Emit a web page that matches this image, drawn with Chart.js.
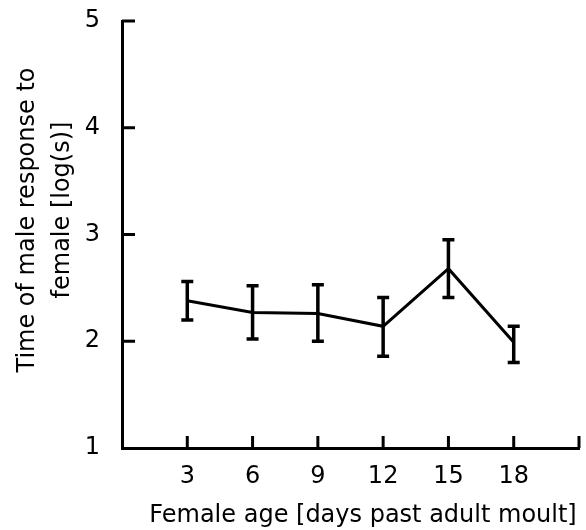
<!DOCTYPE html>
<html>
<head>
<meta charset="utf-8">
<script src="https://cdn.jsdelivr.net/npm/chart.js@4.4.0/dist/chart.umd.min.js"></script>
<style>
  html, body { margin: 0; padding: 0; background: #fff; }
  #wrap { width: 586px; height: 530px; }
</style>
</head>
<body>
<div id="wrap"><canvas id="chart"></canvas></div>
<script>
// female age (days past adult moult) and mean log response time
const ages = [3, 6, 9, 12, 15, 18]
const means = [2.38, 2.27, 2.26, 2.14, 2.68, 1.99]
const err_low = [2.20, 2.02, 2.00, 1.86, 2.41, 1.80]
const err_high = [2.56, 2.52, 2.53, 2.41, 2.95, 2.14]
const x_ticks = [3, 6, 9, 12, 15, 18, 21]
const y_ticks = [1, 2, 3, 4, 5]
const x_title = "Female age [days past adult moult]"
const y_title = ["Time of male response to", "female [log(s)]"]

const font_family = "'DejaVu Sans', sans-serif"

// error bars, inward tick marks and axis titles, drawn through the chart's scales
const extras = {
    id: "extras",
    afterDatasetsDraw(chart) {
        const ctx = chart.ctx
        const xs = chart.scales.x
        const ys = chart.scales.y
        ctx.save()
        ctx.strokeStyle = "#000"
        ctx.lineCap = "butt"

        // error bars
        ctx.lineWidth = 3.5
        for (let i = 0; i < ages.length; i++) {
            let px = xs.getPixelForValue(ages[i])
            let top = ys.getPixelForValue(err_high[i])
            let bot = ys.getPixelForValue(err_low[i])
            ctx.beginPath()
            ctx.moveTo(px, top)
            ctx.lineTo(px, bot)
            ctx.moveTo(px - 6, top)
            ctx.lineTo(px + 6, top)
            ctx.moveTo(px - 6, bot)
            ctx.lineTo(px + 6, bot)
            ctx.stroke()
        }

        // ticks pointing into the plot
        ctx.lineWidth = 3
        let base_y = ys.getPixelForValue(1)
        x_ticks.forEach(t => {
            let px = xs.getPixelForValue(t)
            ctx.beginPath()
            ctx.moveTo(px, base_y)
            ctx.lineTo(px, base_y - 12)
            ctx.stroke()
        })
        let base_x = xs.getPixelForValue(0)
        y_ticks.forEach(t => {
            if (t === 1) return
            let py = ys.getPixelForValue(t)
            ctx.beginPath()
            ctx.moveTo(base_x, py)
            ctx.lineTo(base_x + 13, py)
            ctx.stroke()
        })

        // axis titles
        ctx.fillStyle = "#000"
        ctx.font = "24px " + font_family
        ctx.textAlign = "center"
        ctx.textBaseline = "alphabetic"
        ctx.fillText(x_title, 363, 522)
        ctx.textBaseline = "middle"
        ctx.save()
        ctx.translate(28, 220)
        ctx.rotate(-Math.PI / 2)
        ctx.fillText(y_title[0], 0, 0)
        ctx.restore()
        ctx.save()
        ctx.translate(63, 210)
        ctx.rotate(-Math.PI / 2)
        ctx.fillText(y_title[1], 0, 0)
        ctx.restore()
        ctx.restore()
    }
}

new Chart(document.getElementById("chart"), {
    type: "scatter",
    data: {
        datasets: [{
            data: ages.map((a, i) => ({ x: a, y: means[i] })),
            showLine: true,
            borderColor: "#000",
            borderWidth: 3,
            pointRadius: 0,
            tension: 0
        }]
    },
    options: {
        responsive: true,
        maintainAspectRatio: false,
        animation: false,
        layout: { padding: { top: 21, right: 7, left: 0, bottom: 0 } },
        plugins: {
            legend: { display: false },
            tooltip: { enabled: false }
        },
        scales: {
            x: {
                type: "linear",
                min: 0,
                max: 21,
                afterBuildTicks: s => { s.ticks = x_ticks.map(v => ({ value: v })) },
                afterFit: s => { s.height = 82; s.paddingLeft = 0; s.paddingRight = 0 },
                grid: { display: false },
                border: { display: true, color: "#000", width: 3 },
                ticks: {
                    color: "#000",
                    padding: 6,
                    maxRotation: 0,
                    font: { family: font_family, size: 24 },
                    callback: v => (v === 21 ? "" : String(v))
                }
            },
            y: {
                min: 1,
                max: 5,
                afterBuildTicks: s => { s.ticks = y_ticks.map(v => ({ value: v })) },
                afterFit: s => { s.width = 122; s.paddingTop = 0; s.paddingBottom = 0 },
                grid: { display: false },
                border: { display: true, color: "#000", width: 3 },
                ticks: {
                    color: "#000",
                    padding: 14,
                    font: { family: font_family, size: 24 }
                }
            }
        }
    },
    plugins: [extras]
})
</script>
</body>
</html>
